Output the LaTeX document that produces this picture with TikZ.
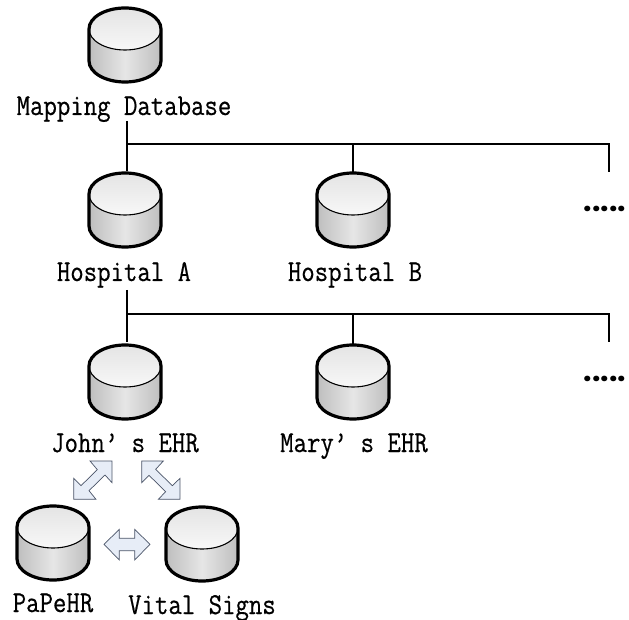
\documentclass[tikz,border=0pt]{standalone}
\usepackage{fontspec}
\newfontfamily\lblfont[FakeStretch=.86,FakeBold=.5]{Latin Modern Mono}
\newfontfamily\dotfont{Poppins}
\definecolor{arrowfill}{HTML}{E7EDF7}
\definecolor{arrowline}{HTML}{4A5468}
\definecolor{cylD}{HTML}{BEBEBE}
\definecolor{cylL}{HTML}{E6E6E6}
\definecolor{cylT}{HTML}{E4E4E4}
\tikzset{
  x=1pt,y=1pt,
  lbl/.style={inner sep=0pt,anchor=base,font=\fontsize{30.3}{32}\selectfont\lblfont},
  link/.style={draw=black,line width=1.6pt},
  blockarrow/.style={draw=arrowline,line width=.7pt,fill=arrowfill},
  dotrow/.style={inner sep=0pt,anchor=base west,font=\fontsize{30}{32}\selectfont\dotfont\bfseries},
  cyl/.pic={
    \path[left color=cylD,right color=cylD,middle color=cylL]
      (-36,0) -- (36,0) -- (36,-32) arc[start angle=0,end angle=-180,x radius=36pt,y radius=21pt] -- cycle;
    \path[top color=cylT,bottom color=white!97!black]
      (0,0) ellipse[x radius=36pt,y radius=21pt];
    \draw[line width=1.1pt] (-36,0) arc[start angle=180,end angle=360,x radius=36pt,y radius=21pt];
    \draw[line width=3.2pt,line join=round] (-36,0) arc[start angle=180,end angle=0,x radius=36pt,y radius=21pt]
      -- (36,-32) arc[start angle=0,end angle=-180,x radius=36pt,y radius=21pt] -- cycle;
    \coordinate (-top) at (0,21);
  }
}
\begin{document}
\begin{tikzpicture}
\useasboundingbox (0,0) rectangle (629,-620);
\fill[white] (0,0) rectangle (629,-620);

\pic (mapdb) at (125,-29) {cyl};
\pic (hospa) at (125,-194) {cyl};
\pic (hospb) at (353,-194) {cyl};
\pic (john) at (125,-366) {cyl};
\pic (mary) at (353,-366) {cyl};
\pic (pape) at (53,-527) {cyl};
\pic (vital) at (202,-528) {cyl};

\node[lbl] (lmap) at (124,-115) {Mapping Database};
\node[lbl] (lhospa) at (124,-281) {Hospital A};
\node[lbl] (lhospb) at (355,-281) {Hospital B};
\node[lbl] (ljohn) at (125,-452) {John’ s EHR};
\node[lbl] (lmary) at (354,-452) {Mary’ s EHR};
\node[lbl] (lpape) at (53,-612) {PaPeHR};
\node[lbl] (lvital) at (202,-614) {Vital Signs};

\node[dotrow] (dots1) at (583.5,-211.5) {.....};
\node[dotrow] (dots2) at (583.5,-381.5) {.....};

% first level
\coordinate (s1) at (127,-121);
\coordinate (e1) at (127,-171);
\coordinate (j1) at (127,-144);
\coordinate (jb1) at (353,-144);
\coordinate (r1) at (609,-172);
\draw[link] (s1) -- (e1);
\draw[link] (j1) -- (jb1) -- (hospb-top);
\draw[link] (jb1) -| (r1);

% second level
\coordinate (s2) at (127,-290);
\coordinate (e2) at (127,-342);
\coordinate (j2) at (127,-314);
\coordinate (jb2) at (353,-314);
\coordinate (r2) at (609,-342);
\draw[link] (s2) -- (e2);
\draw[link] (j2) -- (jb2) -- (mary-top);
\draw[link] (jb2) -| (r2);

% block arrows (coordinates in thirds of a pixel)
\begin{scope}[shift={(0,-400)},x=.33333pt,y=-.33333pt]
\draw[blockarrow] (336,183) -- (336,248) -- (315,225) -- (267,272) -- (288,298) -- (221,298)
  -- (221,235) -- (243,257) -- (292,209) -- (270,183) -- cycle;
\draw[blockarrow] (425,183) -- (490,183) -- (467,208) -- (517,257) -- (540,235) -- (540,298)
  -- (475,298) -- (497,275) -- (447,226) -- (425,248) -- cycle;
\draw[blockarrow] (312,433) -- (358,388) -- (358,415) -- (404,415) -- (404,388) -- (450,433)
  -- (404,480) -- (404,452) -- (358,452) -- (358,480) -- cycle;
\end{scope}
\end{tikzpicture}
\end{document}
